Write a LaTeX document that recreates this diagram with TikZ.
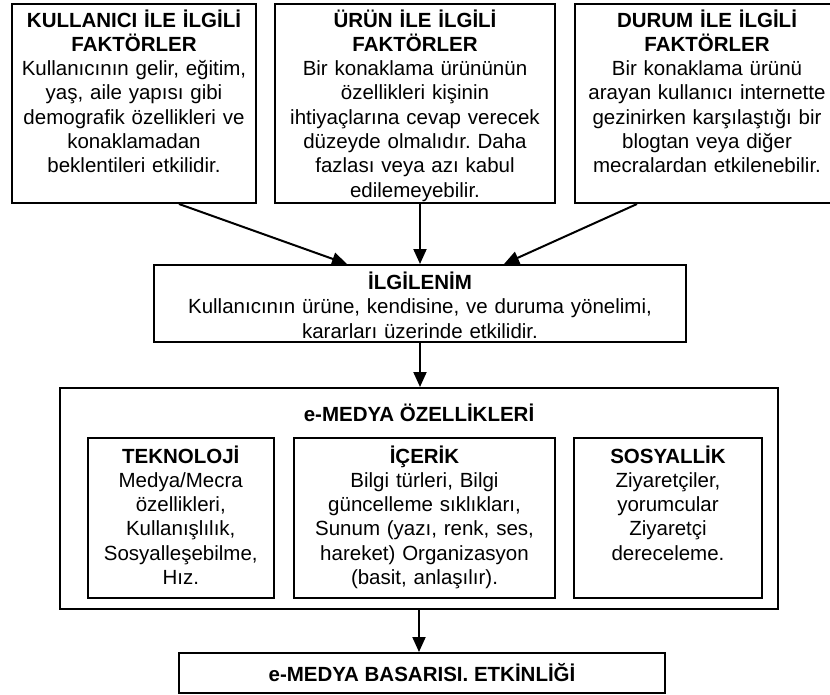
\documentclass[tikz,border=0pt]{standalone}
\usepackage{fontspec}
\setmainfont{Liberation Sans}
\usetikzlibrary{arrows.meta}

\tikzset{
  box/.style={draw, line width=2pt},
  factor/.style={box, anchor=north, align=center, inner xsep=2pt, inner ysep=6pt,
    text height=17pt, text depth=170pt},
  aspect/.style={factor, text height=19pt, text depth=129pt},
  arr/.style={-{Triangle[length=15pt,width=13pt]}, line width=2pt},
}

\begin{document}
\frenchspacing
\fontsize{20.5pt}{24.3pt}\selectfont
\begin{tikzpicture}[x=1pt,y=-1pt]
      \useasboundingbox (0,0) rectangle (830,694);
      % top row
      \node[factor, text width=240pt] (K) at (134,3)
        {\textbf{KULLANICI İLE İLGİLİ}\\ \textbf{FAKTÖRLER}\\
         Kullanıcının gelir, eğitim,\\ yaş, aile yapısı gibi\\
         demografik özellikleri ve\\ konaklamadan\\ beklentileri etkilidir.};
      \node[factor, text width=276pt] (U) at (415,3)
        {\textbf{ÜRÜN İLE İLGİLİ}\\ \textbf{FAKTÖRLER}\\
         Bir konaklama ürününün\\ özellikleri kişinin\\
         ihtiyaçlarına cevap verecek\\ düzeyde olmalıdır. Daha\\
         fazlası veya azı kabul\\ edilemeyebilir.};
      \node[factor, text width=260pt] (D) at (707,3)
        {\textbf{DURUM İLE İLGİLİ}\\ \textbf{FAKTÖRLER}\\
         Bir konaklama ürünü\\ arayan kullanıcı internette\\
         gezinirken karşılaştığı bir\\ blogtan veya diğer\\
         mecralardan etkilenebilir.};
      % middle
      \node[factor, text width=528pt, text height=18.5pt, text depth=46.5pt] (I) at (420,264)
        {\textbf{İLGİLENİM}\\ Kullanıcının ürüne, kendisine, ve duruma yönelimi,\\
         kararları üzerinde etkilidir.};
      % e-media
      \node[box, minimum width=718pt, minimum height=221pt] (E) at (419,498.5) {};
      \node[font=\bfseries] (Etitle) at (419,413) {e-MEDYA ÖZELLİKLERİ};
      \node[aspect, text width=182pt] (T) at (180.75,437)
        {\textbf{TEKNOLOJİ}\\ Medya/Mecra\\ özellikleri,\\ Kullanışlılık,\\
         Sosyalleşebilme,\\ Hız.};
      \node[aspect, text width=257pt] (C) at (424.5,437)
        {\textbf{İÇERİK}\\ Bilgi türleri, Bilgi\\ güncelleme sıklıkları,\\
         Sunum (yazı, renk, ses,\\ hareket) Organizasyon\\ (basit, anlaşılır).};
      \node[aspect, text width=184pt] (S) at (668,437)
        {\textbf{SOSYALLİK}\\ Ziyaretçiler,\\ yorumcular\\ Ziyaretçi\\ dereceleme.};
      \node[box, minimum width=486pt, minimum height=40pt, font=\bfseries] (B) at (422,673)
        {e-MEDYA BASARISI. ETKİNLİĞİ};
      % arrows
      \draw[arr] ([xshift=45pt]K.south) -- ([xshift=-73pt]I.north);
      \draw[arr] ([xshift=5pt]U.south) -- (I.north);
      \draw[arr] ([xshift=-70pt]D.south) -- ([xshift=84pt]I.north);
      \draw[arr] (I.south) -- (I.south |- E.north);
      \draw[arr] (E.south) -- (E.south |- B.north);
\end{tikzpicture}
\end{document}
